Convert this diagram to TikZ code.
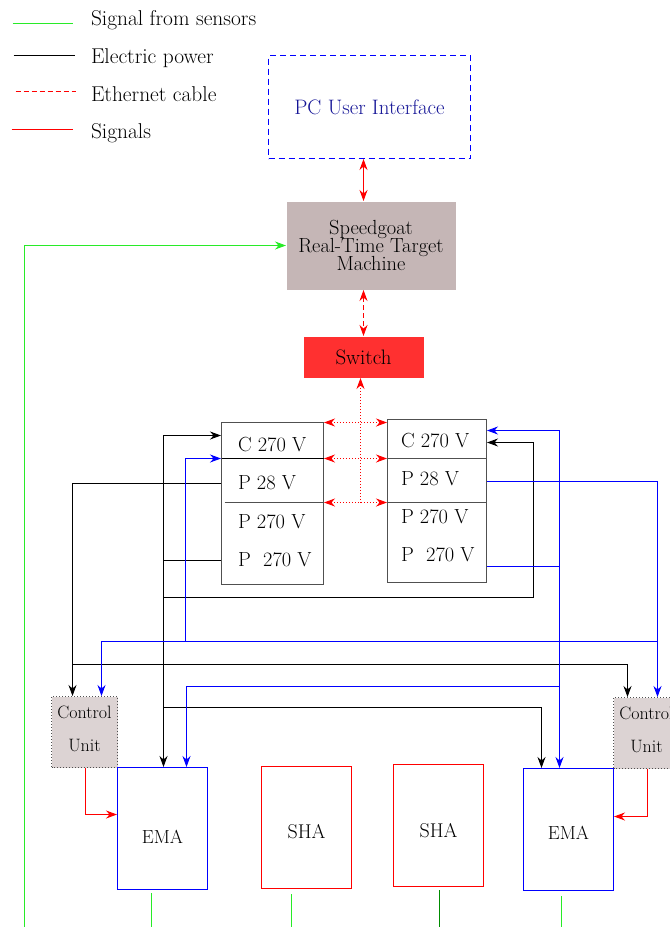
\documentclass[tikz,border=0pt]{standalone}
\usepackage{fontspec}
\usetikzlibrary{arrows.meta}
\definecolor{sgfill}{RGB}{197,182,182}
\definecolor{swfill}{RGB}{255,48,48}
\definecolor{cufill}{RGB}{220,211,211}
\definecolor{pcblue}{RGB}{20,20,150}
\definecolor{sensgreen}{RGB}{40,235,40}
\definecolor{darkgreen}{RGB}{0,140,0}
\definecolor{boxgray}{RGB}{80,80,80}
\newcommand{\myfs}[1]{\fontsize{#1}{#1}\selectfont}
\begin{document}
\begin{tikzpicture}[x=1bp,y=-1bp,
  >={Stealth[length=11bp,width=8bp]},
  line width=1bp,
  pwline/.style={draw=black,line width=1bp},
  bluesig/.style={draw=blue,line width=1bp},
  redsig/.style={draw=red,line width=1bp},
  greensig/.style={draw=sensgreen,line width=1bp},
  ethline/.style={draw=red,line width=1bp},
  box/.style={draw=boxgray,inner sep=0pt,line width=1bp},
  btxt/.style={anchor=base west,inner sep=0pt,font=\myfs{20.5}},
  cutxt/.style={anchor=base,inner sep=0pt,font=\myfs{18}},
  cubox/.style={draw=boxgray,dotted,fill=cufill,inner sep=0pt,minimum width=66bp,minimum height=71bp,line width=1bp},
  actbox/.style={inner sep=0pt,minimum width=90bp,minimum height=122bp,line width=1bp},
  lbl/.style={inner sep=0pt}
]
\useasboundingbox (0,0) rectangle (670,927);
\begin{scope}[shift={(0.5,0.5)}]
% ---------- legend ----------
\coordinate (lg1a) at (12,23);  \coordinate (lg1b) at (72,23);
\coordinate (lg2a) at (13,55);  \coordinate (lg2b) at (74,55);
\coordinate (lg3a) at (15,91);  \coordinate (lg3b) at (75,91);
\coordinate (lg4a) at (11,129); \coordinate (lg4b) at (72,129);
\draw[greensig] (lg1a) -- (lg1b);
\draw[pwline] (lg2a) -- (lg2b);
\draw[draw=red,line width=1bp,dash pattern=on 5bp off 3bp] (lg3a) -- (lg3b);
\draw[draw=red,line width=1bp] (lg4a) -- (lg4b);
\node[lbl,anchor=base west,font=\myfs{21.5}] (lgt1) at (90,25) {Signal from sensors};
\node[lbl,anchor=base west,font=\myfs{21.5}] (lgt2) at (90,63) {Electric power};
\node[lbl,anchor=base west,font=\myfs{21.5}] (lgt3) at (90,101) {Ethernet cable};
\node[lbl,anchor=base west,font=\myfs{21.5}] (lgt4) at (90,138) {Signals};

% ---------- top blocks ----------
\node[draw=blue,dash pattern=on 6bp off 4bp,minimum width=202bp,minimum height=103bp,inner sep=0pt,
      text=pcblue,font=\myfs{21}] (pc) at (369,106.5) {PC User Interface};
\node[fill=sgfill,minimum width=169bp,minimum height=88bp,inner sep=0pt,align=center,
      font=\fontsize{20.5}{18.5}\selectfont] (sg) at (370.5,245) {Speedgoat\\Real-Time Target\\Machine};
\node[fill=swfill,minimum width=120bp,minimum height=41bp,inner sep=0pt,font=\myfs{21}] (sw) at (363,356.5) {Switch};

% ---------- power boxes ----------
\node[box,minimum width=102bp,minimum height=162bp] (lbox) at (272,503) {};
\node[box,minimum width=99bp,minimum height=163bp] (rbox) at (436.5,500.5) {};
\draw[pwline] (221,458) -- (323,458);
\draw[draw=boxgray,line width=1bp] (224,502) -- (323,502);
\draw[draw=boxgray,line width=1bp] (387,458) -- (486,458);
\draw[draw=boxgray,line width=1bp] (387,502) -- (486,502);
\node[btxt] (l1) at (237,451) {C 270 V};
\node[btxt] (l2) at (237,489) {P 28 V};
\node[btxt] (l3) at (237,528) {P 270 V};
\node[btxt] (l4) at (237,566) {P~~270 V};
\node[btxt] (r1) at (400,447) {C 270 V};
\node[btxt] (r2) at (400,485) {P 28 V};
\node[btxt] (r3) at (400,523) {P 270 V};
\node[btxt] (r4) at (400,561) {P~~270 V};

% ---------- control units ----------
\node[cubox] (cuL) at (84,731.5) {};
\node[cubox] (cuR) at (646,732.5) {};
\node[cutxt] (cuLa) at (84,718) {Control};
\node[cutxt] (cuLb) at (84,751) {Unit};
\node[cutxt] (cuRa) at (646,719) {Control};
\node[cutxt] (cuRb) at (646,752) {Unit};

% ---------- actuators ----------
\node[actbox,draw=blue] (emaL) at (162,828) {};
\node[actbox,draw=red] (sha1) at (306,827) {};
\node[actbox,draw=red] (sha2) at (438,825) {};
\node[actbox,draw=blue] (emaR) at (568,829) {};
\node[lbl,font=\myfs{19}] (emaLt) at (162,836) {EMA};
\node[lbl,font=\myfs{20}] (sha1t) at (306,831) {SHA};
\node[lbl,font=\myfs{20}] (sha2t) at (438,830) {SHA};
\node[lbl,font=\myfs{19}] (emaRt) at (568,832) {EMA};

% ---------- ethernet ----------
\draw[ethline,<->] (pc.south -| 363,0) -- (sg.north -| 363,0);
\draw[ethline,<->,dash pattern=on 5bp off 3bp] (sg.south -| 363,0) -- (sw.north -| 363,0);
\coordinate (ethb) at (360,502);
\draw[ethline,->,dotted] (ethb) -- (sw.south -| 360,0);
\draw[ethline,<->,dotted] (lbox.east |- 0,422) -- (rbox.west |- 0,422);
\draw[ethline,<->,dotted] (lbox.east |- 0,458) -- (rbox.west |- 0,458);
\draw[ethline,<->,dotted] (lbox.east |- 0,502) -- (rbox.west |- 0,502);

% ---------- electric power ----------
\draw[pwline,<->] (lbox.west |- 0,435) -- (163,435) -- (emaL.north -| 163,0);
\draw[pwline] (163,560) -- (lbox.west |- 0,560);
\draw[pwline,->] (163,597) -- (533,597) -- (533,442) -- (rbox.east |- 0,442);
\draw[pwline,->] (lbox.west |- 0,483) -- (72,483) -- (cuL.north -| 72,0);
\draw[pwline,->] (72,664) -- (627,664) -- (cuR.north -| 627,0);
\draw[pwline,->] (163,707) -- (541,707) -- (emaR.north -| 541,0);

% ---------- blue signals ----------
\draw[bluesig,->] (185,641) -- (185,458) -- (lbox.west |- 0,458);
\draw[bluesig,->] (657,641) -- (101,641) -- (cuL.north -| 101,0);
\draw[bluesig,->] (rbox.east |- 0,481) -- (657,481) -- (cuR.north -| 657,0);
\draw[bluesig,<->] (rbox.east |- 0,430) -- (559,430) -- (emaR.north -| 559,0);
\draw[bluesig] (rbox.east |- 0,566) -- (559,566);
\draw[bluesig,->] (559,686) -- (186,686) -- (emaL.north -| 186,0);

% ---------- red signals ----------
\draw[redsig,->] (cuL.south -| 85,0) -- (85,814) -- (emaL.west |- 0,814);
\draw[redsig,->] (cuR.south -| 647,0) -- (647,816) -- (emaR.east |- 0,816);

% ---------- sensor signals ----------
\coordinate (gbot) at (24,928);
\draw[greensig,->] (gbot) -- (24,245) -- (sg.west);
\coordinate (g1) at (151,928);
\coordinate (g2) at (291,928);
\coordinate (g3) at (439,928);
\coordinate (g4) at (561,928);
\draw[greensig] (g1) -- (151,892);
\draw[greensig] (g2) -- (291,893);
\draw[draw=darkgreen,line width=1bp] (g3) -- (439,889);
\draw[greensig] (g4) -- (561,895);
\end{scope}
\end{tikzpicture}
\end{document}
